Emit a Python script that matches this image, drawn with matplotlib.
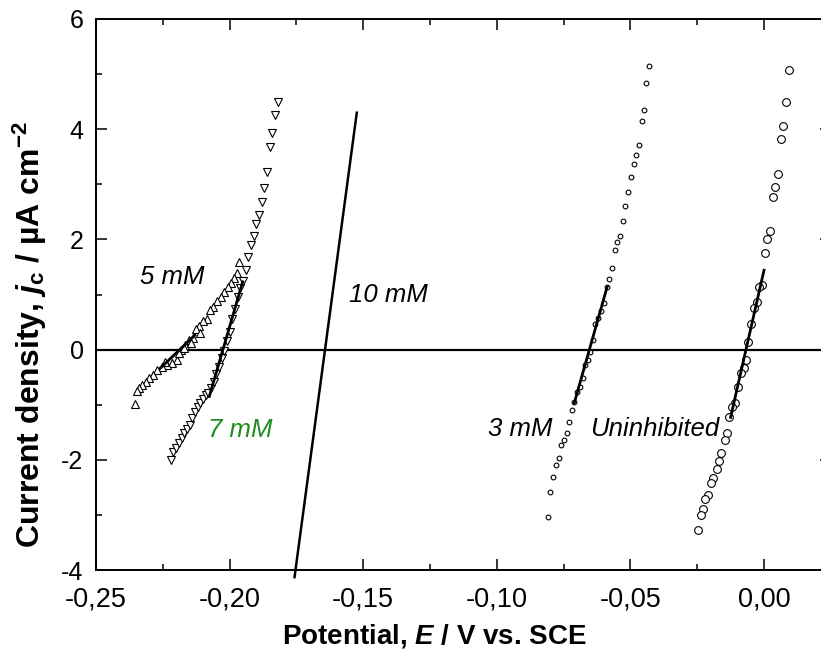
import matplotlib
matplotlib.use("Agg")
import matplotlib.pyplot as plt
from matplotlib.ticker import MultipleLocator, FuncFormatter

# ---------------- data ----------------
unin_x = [0.0094, 0.0082, 0.0072, 0.0063, 0.0052, 0.0042, 0.0033, 0.0022, 0.0012, 0.0003,
          -0.0007, -0.0018, -0.0027, -0.0039, -0.0049, -0.0059, -0.0068, -0.0076, -0.0087,
          -0.0098, -0.0109, -0.0121, -0.0130, -0.0137, -0.0146, -0.0160, -0.0168, -0.0177,
          -0.0190, -0.0199, -0.0210, -0.0220, -0.0227, -0.0237, -0.0248]
unin_y = [5.08, 4.50, 4.06, 3.83, 3.19, 2.96, 2.77, 2.16, 2.01, 1.75,
          1.18, 1.13, 0.87, 0.75, 0.46, 0.14, -0.19, -0.34, -0.42,
          -0.67, -0.97, -1.04, -1.22, -1.52, -1.64, -1.87, -2.03, -2.17,
          -2.33, -2.42, -2.63, -2.72, -2.89, -3.00, -3.27]

mm3_x = [-0.0432, -0.0440, -0.0449, -0.0458, -0.0468, -0.0478, -0.0488, -0.0498, -0.0509,
         -0.0519, -0.0529, -0.0539, -0.0549, -0.0559, -0.0569, -0.0579, -0.0589, -0.0600,
         -0.0610, -0.0620, -0.0631, -0.0640, -0.0650, -0.0659, -0.0669, -0.0679, -0.0689,
         -0.0699, -0.0710, -0.0720, -0.0730, -0.0738, -0.0749, -0.0759, -0.0768, -0.0778,
         -0.0790, -0.0800, -0.0810]
mm3_y = [5.14, 4.84, 4.34, 4.14, 3.71, 3.54, 3.37, 3.13, 2.86,
         2.61, 2.34, 2.07, 1.95, 1.80, 1.48, 1.28, 1.13, 0.85,
         0.70, 0.58, 0.46, 0.18, -0.04, -0.19, -0.28, -0.52, -0.67,
         -0.77, -0.96, -1.10, -1.32, -1.52, -1.64, -1.73, -1.96, -2.10,
         -2.32, -2.59, -3.03]

mm5_x = [-0.1964, -0.1974, -0.1985, -0.1996, -0.2007, -0.2021, -0.2032, -0.2046, -0.2061,
         -0.2073, -0.2086, -0.2098, -0.2113, -0.2126, -0.2136, -0.2151, -0.2167, -0.2182,
         -0.2198, -0.2217, -0.2235, -0.2254, -0.2273, -0.2286, -0.2301, -0.2313, -0.2326,
         -0.2338, -0.2348, -0.2354, -0.2190, -0.2172, -0.2143, -0.2110, -0.2243]
mm5_y = [1.59, 1.39, 1.30, 1.20, 1.13, 1.05, 0.96, 0.88, 0.77,
         0.71, 0.56, 0.52, 0.43, 0.38, 0.21, 0.17, 0.09, -0.01,
         -0.19, -0.25, -0.28, -0.32, -0.37, -0.46, -0.52, -0.58, -0.64,
         -0.70, -0.76, -0.99, -0.06, 0.02, 0.12, 0.30, -0.22]

mm7_x = [-0.222, -0.221, -0.220, -0.219, -0.218, -0.217, -0.216, -0.215, -0.214, -0.213,
         -0.212, -0.211, -0.210, -0.209, -0.208, -0.207, -0.206, -0.205, -0.204, -0.203,
         -0.202, -0.201, -0.200, -0.199, -0.198, -0.197, -0.196, -0.195, -0.194, -0.193,
         -0.192, -0.191, -0.190, -0.189, -0.188, -0.187, -0.186, -0.185, -0.184, -0.183,
         -0.182]
mm7_y = [-2.00, -1.86, -1.79, -1.70, -1.61, -1.52, -1.45, -1.36, -1.25, -1.14,
         -1.05, -0.97, -0.90, -0.83, -0.78, -0.70, -0.58, -0.45, -0.32, -0.16,
         -0.02, 0.15, 0.32, 0.55, 0.74, 0.95, 1.12, 1.25, 1.44, 1.68,
         1.89, 2.06, 2.28, 2.45, 2.68, 2.94, 3.22, 3.68, 3.93, 4.26,
         4.50]

fit_unin_x = [-0.0125, 0.0000]
fit_unin_y = [-1.23, 1.44]
fit_3_x = [-0.0710, -0.0587]
fit_3_y = [-0.97, 1.14]
fit_5_x = [-0.2260, -0.2130]
fit_5_y = [-0.34, 0.26]
fit_7_x = [-0.2076, -0.1951]
fit_7_y = [-0.85, 1.23]
line_10_x = [-0.1757, -0.1524]
line_10_y = [-4.13, 4.30]

labels = ["5 mM", "10 mM", "7 mM", "3 mM", "Uninhibited"]
label_x = [-0.2216, -0.1407, -0.1961, -0.0913, -0.0408]
label_y = [1.31, 1.00, -1.46, -1.44, -1.44]
label_colors = ["black", "black", "#1E8C1E", "black", "black"]

# ---------------- style ----------------
plt.rcParams['font.family'] = ['Liberation Sans', 'DejaVu Sans']
plt.rcParams['mathtext.fontset'] = 'custom'
plt.rcParams['mathtext.rm'] = 'Liberation Sans:bold'
plt.rcParams['mathtext.bf'] = 'Liberation Sans:bold'
plt.rcParams['mathtext.it'] = 'Liberation Sans:italic:bold'

W, H = 821, 654
fig = plt.figure(figsize=(W / 100, H / 100), dpi=100)
ax = fig.add_axes([96 / W, (H - 570) / H, 734.8 / W, 551 / H])

ax.set_xlim(-0.25, 0.025)
ax.set_ylim(-4, 6)

ax.axhline(0, color='black', lw=1.6, zorder=1)

ms_kw = dict(linestyle='none', markerfacecolor='white', markeredgecolor='black', markeredgewidth=0.8)
ax.plot(unin_x, unin_y, marker='o', markersize=5.6, **ms_kw, zorder=3)
ax.plot(mm3_x, mm3_y, marker='o', markersize=3.4, **ms_kw, zorder=3)
ax.plot(mm5_x, mm5_y, marker='^', markersize=5.4, **ms_kw, zorder=3)
ax.plot(mm7_x, mm7_y, marker='v', markersize=5.4, **ms_kw, zorder=3)

for fx, fy in [(fit_unin_x, fit_unin_y), (fit_3_x, fit_3_y), (fit_5_x, fit_5_y), (fit_7_x, fit_7_y)]:
    ax.plot(fx, fy, color='black', lw=2.0, zorder=4)
ax.plot(line_10_x, line_10_y, color='black', lw=1.8, zorder=4, clip_on=False)

for t, x, y, c in zip(labels, label_x, label_y, label_colors):
    ax.text(x, y, t, fontsize=18.5, style='italic', color=c, ha='center', va='center', zorder=5)

# ticks
ax.xaxis.set_major_locator(MultipleLocator(0.05))
ax.xaxis.set_minor_locator(MultipleLocator(0.025))
ax.yaxis.set_major_locator(MultipleLocator(2))
ax.yaxis.set_minor_locator(MultipleLocator(1))

def xfmt(v, pos):
    s = f"{v:.2f}"
    if s == "-0.00":
        s = "0.00"
    return s.replace('.', ',')

def yfmt(v, pos):
    return f"{int(round(v))}"

ax.xaxis.set_major_formatter(FuncFormatter(xfmt))
ax.yaxis.set_major_formatter(FuncFormatter(yfmt))

ax.tick_params(which='both', direction='in', top=True, right=True, width=1.1)
ax.tick_params(which='major', length=8)
ax.tick_params(which='minor', length=4.5)
ax.tick_params(axis='x', which='major', labelsize=19.5, pad=12)
ax.tick_params(axis='y', which='major', labelsize=18, pad=9)
for s in ax.spines.values():
    s.set_linewidth(1.4)

fig.text(434 / W, 1 - 636 / H, r"Potential, $E$ / V vs. SCE", fontsize=20,
         fontweight='bold', ha='center', va='center')
fig.text(30 / W, 1 - 335 / H, r"Current density, $j_{\mathrm{c}}$ / µA cm$^{\mathrm{-2}}$",
         fontsize=23, fontweight='bold', ha='center', va='center', rotation=90)

fig.savefig("out.png", dpi=100)
